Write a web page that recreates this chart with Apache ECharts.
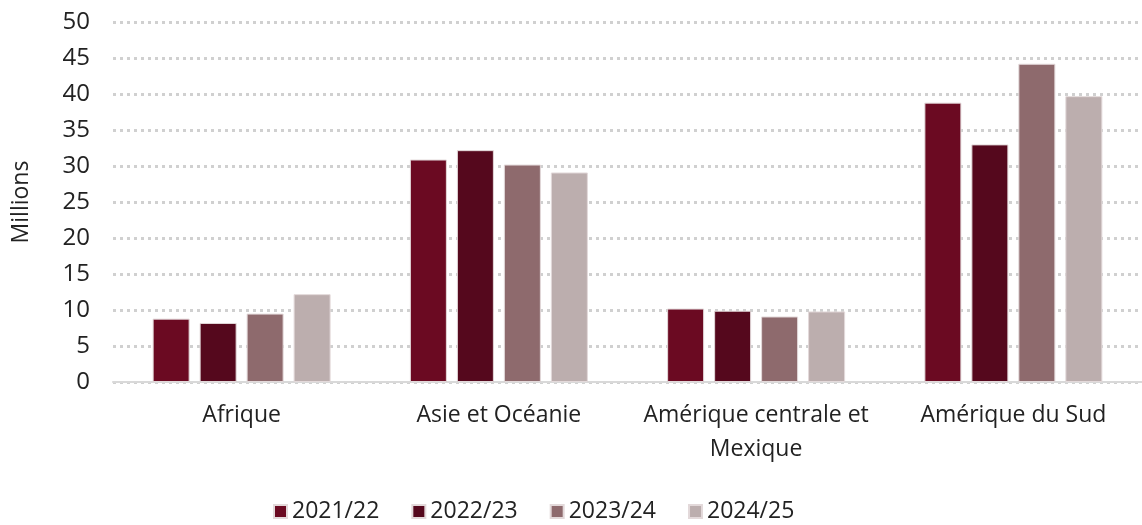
<!DOCTYPE html>
<html>
<head>
    <meta charset="utf-8">
    <title>ECharts</title>
    <script src="https://cdn.jsdelivr.net/npm/echarts@6/dist/echarts.min.js"></script>
</head>
<body style="margin:0">
    <div id="main" style="width: 1142px;height:525px;"></div>
    <script type="text/javascript">
        var regions = ['Afrique', 'Asie et Océanie', 'Amérique centrale et\nMexique', 'Amérique du Sud'];
        var seasons = ['2021/22', '2022/23', '2023/24', '2024/25'];
        var colors = ['#6b0a22', '#55081d', '#8e6a6d', '#bcaeae'];
        var v2021 = [8.8, 30.9, 10.2, 38.8];
        var v2022 = [8.2, 32.2, 9.9, 33.0];
        var v2023 = [9.5, 30.2, 9.1, 44.2];
        var v2024 = [12.2, 29.1, 9.8, 39.7];
        var values = [v2021, v2022, v2023, v2024];

        var myChart = echarts.init(document.getElementById('main'));
        var font = '"Open Sans", Lato, sans-serif';

        var series = seasons.map(function (s, i) {
            return {
                name: s,
                type: 'bar',
                data: values[i],
                barWidth: 37,
                barGap: '27%',
                itemStyle: { color: colors[i], borderColor: '#e3d9da', borderWidth: 1 }
            };
        });

        var option = {
            animation: false,
            textStyle: { fontFamily: font },
            grid: { left: 113, right: 0, top: 22, bottom: 143, containLabel: false, outerBoundsMode: 'none' },
            legend: {
                bottom: -3,
                left: 268,
                itemWidth: 13,
                itemHeight: 13,
                itemGap: 32,
                icon: 'rect',
                textStyle: { fontSize: 23, color: '#222', fontFamily: font }
            },
            xAxis: {
                type: 'category',
                data: regions,
                axisLine: { lineStyle: { color: '#d9d9d9', width: 2 } },
                axisTick: { show: false },
                axisLabel: { interval: 0, fontSize: 23, color: '#222', lineHeight: 34, margin: 16 }
            },
            yAxis: {
                type: 'value',
                min: 0,
                max: 50,
                interval: 5,
                name: 'Millions',
                nameLocation: 'middle',
                nameGap: 80,
                nameTextStyle: { fontSize: 23, color: '#222' },
                axisLabel: { fontSize: 24, color: '#222', margin: 23 },
                splitLine: { lineStyle: { color: '#d0d0d0', width: 3, type: [3, 4] } }
            },
            series: series
        };

        myChart.setOption(option);
    </script>
</body>
</html>
